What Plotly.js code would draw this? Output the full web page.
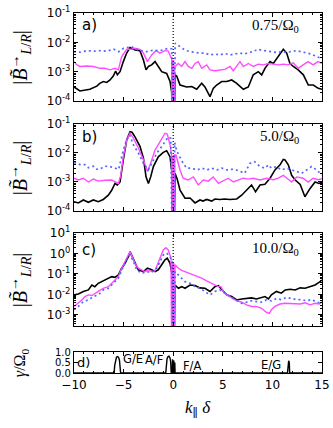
<!DOCTYPE html>
<html><head><meta charset="utf-8">
<script src="https://cdn.plot.ly/plotly-3.0.1.min.js"></script>
<style>html,body{margin:0;padding:0;background:#fff}#chart{width:333px;height:428px}</style>
</head><body><div id="chart"></div>
<script>
// ---------- Panel a (0.75/Ω0) ----------
const aBlackX = [-10,-9.4,-8.4,-7.7,-7.4,-7.05,-6.7,-6.37,-6.04,-5.8,-5.63,-5.36,-5.03,-4.69,-4.35,-4.2,-3.85,-3.35,-3.0,-2.74,-2.5,-2.17,-1.83,-1.5,-1.16,-0.66,-0.32,-0.15,0,0.18,0.35,0.69,1.19,1.36,1.87,2.37,2.87,3.2,3.71,4.04,4.38,4.89,5.39,5.9,6.4,7.07,7.57,8.07,8.58,8.92,9.25,9.76,10.09,10.43,10.77,11.1,11.44,11.77,12.11,12.6,13.12,13.62,14.12,14.63,15];
const aBlackY = [3.0e-4,2.2e-4,2.5e-4,3.2e-4,4.0e-4,4.6e-4,4.3e-4,5.2e-4,7.1e-4,1.05e-3,7.8e-4,1.0e-3,2.2e-3,4.3e-3,6.6e-3,6.3e-3,5.5e-3,5.2e-3,2.5e-3,1.15e-3,1.5e-3,1.7e-3,2.2e-3,1.5e-3,1.0e-3,8.7e-4,4.6e-4,2.0e-4,1e-8,7.8e-4,7.1e-4,3.5e-4,3.2e-4,3.0e-4,3.1e-4,2.5e-4,4.0e-4,3.0e-4,1.4e-4,2.7e-4,3.5e-4,4.6e-4,4.6e-4,5.2e-4,4.0e-4,2.5e-4,3.0e-4,7.8e-4,1.0e-3,7.8e-4,1.3e-3,2.2e-3,1.9e-3,2.8e-3,4.3e-3,5.8e-3,4.3e-3,1.9e-3,1.5e-3,1.15e-3,7.8e-4,3.5e-4,3.5e-4,2.7e-4,2.5e-4];
const aMagX = [-10,-9.7,-9.4,-8.7,-8.05,-7.38,-6.9,-6.37,-5.87,-5.53,-5.2,-4.69,-4.2,-3.85,-3.35,-3.0,-2.6,-2.17,-1.73,-1.33,-0.83,-0.5,-0.25,-0.15,-0.1,-0.05,0,0.05,0.1,0.15,0.18,0.52,0.85,1.19,1.52,1.87,2.2,2.53,2.87,3.37,3.71,4.21,4.71,5.22,5.73,6.06,6.4,6.73,7.07,7.57,8.07,8.58,9.08,9.6,10.1,10.6,11.1,11.6,12.1,12.6,13.1,13.6,14.1,14.6,15];
const aMagY = [2.2e-3,1.7e-3,1.5e-3,1.55e-3,1.5e-3,1.3e-3,1.3e-3,1.15e-3,1.3e-3,1.15e-3,3.2e-3,5.8e-3,5.8e-3,6.3e-3,5.8e-3,4.3e-3,2.2e-3,3.7e-3,5.2e-3,4.3e-3,5.2e-3,5.0e-3,3.2e-3,2.8e-3,1e-8,2.5e-3,1e-8,2.5e-3,1e-8,1.5e-3,1.5e-3,1.9e-3,1.5e-3,2.2e-3,1.5e-3,1.3e-3,1.9e-3,2.2e-3,1.3e-3,1.7e-3,1.15e-3,1.07e-3,1.15e-3,1.2e-3,1.5e-3,1.07e-3,1.55e-3,2.2e-3,1.5e-3,1.9e-3,1.5e-3,1.8e-3,1.7e-3,1.9e-3,1.8e-3,1.7e-3,1.8e-3,1.7e-3,2.0e-3,1.3e-3,1.7e-3,2.2e-3,1.7e-3,2.2e-3,1.9e-3];
const aBlueX = [-10,-9.4,-8.7,-8.0,-7.4,-6.7,-6.0,-5.5,-5.0,-4.5,-4.2,-3.5,-2.7,-2.0,-1.33,-0.83,-0.4,-0.15,0,0.2,0.69,1.19,1.7,2.2,2.7,3.2,3.71,4.2,4.7,5.2,5.7,6.2,6.7,7.2,7.6,8.07,8.5,8.9,9.4,9.9,10.4,10.9,11.4,11.9,12.4,12.9,13.4,13.9,14.5,15];
const aBlueY = [4.8e-3,4.6e-3,5.2e-3,5.0e-3,5.2e-3,5.0e-3,5.8e-3,4.8e-3,6.3e-3,6.6e-3,7.1e-3,5.4e-3,4.8e-3,5.4e-3,5.2e-3,5.8e-3,6.3e-3,6.0e-3,1e-8,9.3e-3,7.1e-3,5.4e-3,4.8e-3,4.5e-3,4.3e-3,4.3e-3,3.7e-3,4.0e-3,3.7e-3,4.2e-3,3.7e-3,4.0e-3,4.3e-3,4.0e-3,4.5e-3,4.8e-3,5.8e-3,5.4e-3,5.2e-3,4.8e-3,4.5e-3,4.8e-3,4.5e-3,4.8e-3,5.2e-3,4.8e-3,4.5e-3,4.0e-3,3.2e-3,2.8e-3];

// ---------- Panel b (5.0/Ω0) ----------
const bBlackX = [-10,-9.56,-9.06,-8.55,-8.05,-7.55,-7.05,-6.54,-6.2,-5.87,-5.63,-5.36,-5.03,-4.69,-4.35,-4.15,-3.85,-3.35,-3.0,-2.74,-2.5,-2.27,-2.0,-1.5,-1.0,-0.66,-0.32,-0.15,0,0.18,0.4,0.69,1.19,1.7,2.2,2.7,3.0,3.37,3.88,4.2,4.7,5.2,5.7,6.4,6.9,7.4,7.9,8.3,8.75,9.25,9.76,10.26,10.77,11.1,11.27,11.6,11.94,12.3,12.8,13.28,13.8,14.3,14.7,15];
const bBlackY = [2.1e-4,1.9e-4,2.4e-4,2.0e-4,2.4e-4,2.1e-4,2.5e-4,3.5e-4,5.2e-4,8.9e-4,7.9e-4,1.0e-3,5.8e-3,2.8e-2,5.4e-2,5.2e-2,3.6e-2,1.7e-2,6.6e-3,1.5e-3,8.9e-4,1.5e-3,3.4e-3,7.4e-3,1.05e-2,1.2e-2,7.4e-3,2.5e-3,1e-8,2.0e-3,1.26e-3,5.2e-4,2.75e-4,2.8e-4,1.9e-4,2.4e-4,2.2e-4,2.5e-4,2.2e-4,2.6e-4,2.5e-4,2.6e-4,2.5e-4,2.6e-4,3.5e-4,5.2e-4,7.9e-4,4.6e-4,7.9e-4,8.3e-4,1.35e-3,2.6e-3,3.9e-3,6.0e-3,5.8e-3,3.9e-3,1.7e-3,1.17e-3,8.3e-4,3.1e-4,6.0e-4,1.0e-3,8.9e-4,1.0e-3];
const bMagX = [-10,-9.56,-9.06,-8.55,-8.05,-7.55,-6.88,-6.2,-5.53,-5.3,-5.03,-4.69,-4.35,-4.0,-3.5,-3.0,-2.6,-2.27,-1.83,-1.33,-0.83,-0.6,-0.32,-0.15,-0.1,-0.05,0,0.05,0.1,0.15,0.28,0.69,1.0,1.5,2.03,2.53,3.03,3.54,4.04,4.55,5.05,5.55,6.06,6.56,7.07,7.57,8.07,8.75,9.4,10.1,10.6,11.1,11.44,11.94,12.45,13.1,13.6,14.1,14.6,15];
const bMagY = [1.35e-3,1.17e-3,1.35e-3,1.0e-3,1.26e-3,1.07e-3,1.15e-3,1.17e-3,8.9e-4,1.6e-3,7.4e-3,2.8e-2,4.8e-2,3.2e-2,1.45e-2,5.8e-3,2.3e-3,4.4e-3,1.26e-2,2.5e-2,4.8e-2,4.5e-2,1.9e-2,8.0e-3,1e-8,8.0e-3,1e-8,8.5e-3,1e-8,8.5e-3,8.5e-3,2.6e-3,1.35e-3,1.17e-3,1.5e-3,7.9e-4,1.17e-3,1.07e-3,1.5e-3,8.9e-4,1.1e-3,1.35e-3,1.0e-3,1.17e-3,1.35e-3,1.26e-3,1.35e-3,1.17e-3,1.35e-3,1.2e-3,1.35e-3,1.7e-3,1.35e-3,1.0e-3,1.5e-3,1.35e-3,1.0e-3,1.35e-3,1.2e-3,1.3e-3];
const bBlueX = [-10,-9.4,-8.9,-8.55,-8.05,-7.7,-7.4,-6.9,-6.37,-5.87,-5.5,-5.03,-4.69,-4.4,-4.0,-3.5,-3.0,-2.5,-2.0,-1.66,-1.16,-0.83,-0.5,-0.25,0,0.15,0.35,0.69,1.0,1.36,1.87,2.37,2.9,3.4,3.9,4.4,4.9,5.4,5.9,6.4,6.9,7.2,7.74,8.2,8.75,9.25,9.6,9.9,10.4,10.9,11.44,11.94,12.45,12.95,13.45,13.95,14.46,15];
const bBlueY = [4.7e-3,4.0e-3,4.0e-3,3.1e-3,3.5e-3,2.75e-3,2.75e-3,3.5e-3,3.4e-3,3.0e-3,2.75e-3,1.26e-2,2.8e-2,4.2e-2,1.9e-2,9.8e-3,4.4e-3,2.6e-3,5.8e-3,9.8e-3,1.66e-2,2.5e-2,3.6e-2,3.2e-2,1e-8,2.3e-2,1.2e-2,7.1e-3,4.4e-3,3.0e-3,3.0e-3,2.6e-3,3.0e-3,2.6e-3,3.0e-3,2.6e-3,3.0e-3,2.6e-3,2.75e-3,2.6e-3,2.2e-3,2.0e-3,4.4e-3,5.0e-3,3.4e-3,3.0e-3,3.9e-3,3.0e-3,3.4e-3,2.6e-3,3.0e-3,2.6e-3,2.3e-3,2.0e-3,2.6e-3,3.4e-3,2.6e-3,1.75e-3];

// ---------- Panel c (10.0/Ω0) ----------
const cBlackX = [-10,-9.56,-9.06,-8.55,-8.2,-7.9,-7.55,-7.2,-6.88,-6.54,-6.2,-5.87,-5.53,-5.2,-4.86,-4.52,-4.35,-4.2,-3.85,-3.52,-3.0,-2.6,-2.17,-1.83,-1.5,-1.16,-0.83,-0.6,-0.32,-0.1,0,0.18,0.52,0.86,1.19,1.7,2.2,2.7,3.2,3.71,4.2,4.55,4.9,5.39,5.9,6.4,6.9,7.4,7.9,8.4,8.9,9.25,9.6,9.9,10.4,10.9,11.3,11.8,12.3,12.8,13.3,13.8,14.3,14.7,15];
const cBlackY = [9.5e-3,1.05e-2,1.4e-2,1.66e-2,2.9e-2,2.4e-2,3.5e-2,4.2e-2,5.1e-2,6.2e-2,7.4e-2,6.8e-2,8.9e-2,0.19,0.33,0.69,1.23,0.85,0.33,0.16,0.13,0.19,0.16,0.13,0.16,0.28,0.49,0.59,0.33,8.9e-2,1e-8,2.9e-2,2.0e-2,2.4e-2,2.0e-2,2.9e-2,2.75e-2,2.1e-2,2.0e-2,1.4e-2,2.4e-2,2.7e-2,1.66e-2,9.5e-3,7.9e-3,5.4e-3,6.0e-3,6.3e-3,6.8e-3,6.0e-3,6.8e-3,7.9e-3,6.0e-3,9.5e-3,1.4e-2,1.15e-2,1.66e-2,1.8e-2,1.66e-2,2.1e-2,2.0e-2,2.4e-2,2.9e-2,3.9e-2,5.0e-2];
const cMagX = [-10,-9.56,-9.2,-8.9,-8.55,-8.2,-7.9,-7.55,-7.05,-6.54,-6.04,-5.53,-5.2,-4.86,-4.52,-4.35,-4.2,-3.85,-3.52,-3.18,-2.84,-2.5,-2.17,-1.85,-1.6,-1.33,-1.0,-0.73,-0.5,-0.22,-0.12,-0.06,0,0.06,0.12,0.18,0.52,0.86,1.19,1.7,2.37,2.87,3.37,3.88,4.2,4.55,4.8,5.05,5.39,5.9,6.4,6.9,7.4,7.9,8.4,8.9,9.4,9.7,9.9,10.26,10.77,11.27,11.8,12.3,12.8,13.3,13.8,14.3,14.7,15];
const cMagY = [2.6e-3,3.7e-3,5.4e-3,7.9e-3,9.5e-3,8.9e-3,1.15e-2,1.4e-2,2.0e-2,2.4e-2,4.2e-2,7.4e-2,0.19,0.4,0.85,1.23,0.85,0.33,0.19,0.16,0.13,0.16,0.13,0.14,0.28,0.69,1.48,1.9,1.48,0.59,1e-8,0.4,1e-8,0.35,1e-8,0.28,0.19,0.15,0.13,0.1,7.4e-2,6.2e-2,4.6e-2,3.5e-2,2.9e-2,2.4e-2,2.4e-2,1.4e-2,9.5e-3,7.1e-3,4.9e-3,4.2e-3,3.1e-3,2.6e-3,2.6e-3,2.1e-3,1.35e-3,1.2e-3,1.8e-3,2.6e-3,3.4e-3,3.7e-3,3.7e-3,3.7e-3,3.4e-3,3.9e-3,3.1e-3,3.7e-3,3.4e-3,4.2e-3];
const cBlueX = [-10,-9.56,-9.06,-8.55,-8.05,-7.55,-7.05,-6.54,-6.04,-5.53,-5.03,-4.7,-4.35,-4.0,-3.68,-3.18,-2.67,-2.17,-1.66,-1.33,-1.0,-0.66,-0.32,-0.12,0,0.18,0.69,1.19,1.7,2.2,2.7,3.2,3.71,4.2,4.7,5.2,5.73,6.4,6.9,7.4,7.9,8.4,8.9,9.4,9.9,10.4,10.9,11.4,11.9,12.45,12.95,13.45,13.95,14.5,15];
const cBlueY = [1.8e-3,2.6e-3,4.5e-3,5.4e-3,7.9e-3,9.5e-3,1.66e-2,2.0e-2,3.5e-2,6.2e-2,0.23,0.49,0.85,0.4,0.16,0.107,0.13,0.117,0.19,0.4,0.85,1.05,0.71,0.4,1e-8,0.13,7.4e-2,4.2e-2,3.5e-2,2.4e-2,2.0e-2,1.4e-2,9.5e-3,1.4e-2,1.66e-2,1.15e-2,7.9e-3,5.4e-3,3.7e-3,4.2e-3,4.9e-3,4.5e-3,4.2e-3,5.4e-3,4.9e-3,6.3e-3,5.6e-3,7.1e-3,6.3e-3,5.6e-3,5.6e-3,4.9e-3,5.6e-3,4.2e-3,3.7e-3];

// ---------- Panel d (growth rate) ----------
const dX = [-10,-5.95,-5.9,-5.82,-5.72,-5.62,-5.52,-5.42,-5.34,-5.3,-0.75,-0.7,-0.62,-0.52,-0.42,-0.32,-0.25,-0.2,-0.1,-0.07,-0.04,0.02,0.05,0.08,0.13,0.16,0.19,11.52,11.58,11.64,11.7,11.74,15];
const dGamma = [0,0,0.35,0.62,0.75,0.78,0.75,0.62,0.35,0,0,0.4,0.68,0.78,0.8,0.72,0.5,0,0,0.65,0,0,0.6,0,0,0.5,0,0,0.55,0.58,0.5,0,0];
const dLabels = ['G/E','A/F','F/A','E/G'];
const dLabelX = [-4.1,-1.9,1.85,9.85];
const dLabelY = [0.68,0.6,0.32,0.4];

// ---------- labels / ticks ----------
const panelTags = ['a)','b)','c)','d)'];
const panelTimes = ['0.75/Ω<sub>0</sub>','5.0/Ω<sub>0</sub>','10.0/Ω<sub>0</sub>'];
const xTickVals = [-10,-5,0,5,10,15];
const xTickText = ['\u221210','\u22125','0','5','10','15'];
const abTickVals = [1e-4,1e-3,1e-2,1e-1];
const abTickText = ['10<sup>-4</sup>','10<sup>-3</sup>','10<sup>-2</sup>','10<sup>-1</sup>'];
const cTickVals = [1e-3,1e-2,1e-1,1,10];
const cTickText = ['10<sup>-3</sup>','10<sup>-2</sup>','10<sup>-1</sup>','10<sup>0</sup>','10<sup>1</sup>'];
const dTickVals = [0,0.5,1];
const dTickText = ['0.0','0.5','1.0'];
const yTitle = '|<i>B\u0303</i><sup>\u2192</sup><sub><i>L</i>/<i>R</i></sub>|';

const BLACK='#000000', MAG='#ff4cff', BLUE='#5566ff';
const SANS='DejaVu Sans, sans-serif', SERIF='Liberation Serif, DejaVu Serif, serif';

function minorLog(lo, hi){ const v=[]; for(let d=lo; d<hi; d++){ for(let k=2;k<=9;k++) v.push(k*Math.pow(10,d)); } return v; }

const traces = [];
function add(x,y,xa,ya,color,dash,w){
  traces.push({x:x,y:y,xaxis:xa,yaxis:ya,type:'scatter',mode:'lines',
    line:{color:color,width:w,dash:dash||'solid'},hoverinfo:'skip',showlegend:false});
}
add(aBlackX,aBlackY,'x','y',BLACK,'solid',1.6);
add(aMagX,aMagY,'x','y',MAG,'solid',1.4);
add(aBlueX,aBlueY,'x','y',BLUE,'2px,3px',1.7);
add(bBlackX,bBlackY,'x2','y2',BLACK,'solid',1.6);
add(bMagX,bMagY,'x2','y2',MAG,'solid',1.4);
add(bBlueX,bBlueY,'x2','y2',BLUE,'2px,3px',1.7);
add(cBlackX,cBlackY,'x3','y3',BLACK,'solid',1.6);
add(cMagX,cMagY,'x3','y3',MAG,'solid',1.4);
add(cBlueX,cBlueY,'x3','y3',BLUE,'2px,3px',1.7);
add(dX,dGamma,'x4','y4',BLACK,'solid',1.4);

const tickFont = {family:SANS,size:12,color:'#000'};
function xax(show){
  return {range:[-10,15],showline:true,linecolor:'#000',linewidth:1.2,mirror:'allticks',
    ticks:'inside',ticklen:4,tickwidth:1,tickcolor:'#000',tickmode:'array',tickvals:xTickVals,ticktext:xTickText,
    showticklabels:show,tickfont:tickFont,showgrid:false,zeroline:false,
    minor:{ticks:'inside',ticklen:2,tickcolor:'#000',tickmode:'linear',tick0:0,dtick:1,showgrid:false}};
}
function ylog(lo,hi,dom,tv,tt){
  return {type:'log',range:[lo,hi],domain:dom,showline:true,linecolor:'#000',linewidth:1.2,mirror:'allticks',
    ticks:'inside',ticklen:4,tickwidth:1,tickcolor:'#000',tickmode:'array',tickvals:tv,ticktext:tt,
    tickfont:tickFont,showgrid:false,zeroline:false,
    minor:{ticks:'inside',ticklen:2,tickcolor:'#000',tickmode:'array',tickvals:minorLog(Math.floor(lo),Math.ceil(hi)),showgrid:false}};
}

const ann = [];
const axNames = ['',"2","3","4"];
const tagY = [0.86,0.85,0.82,0.48];
for(let i=0;i<4;i++){
  ann.push({xref:'x'+axNames[i]+' domain',yref:'y'+axNames[i]+' domain',x:i===3?0.006:0.024,y:tagY[i],
    xanchor:'left',yanchor:'middle',text:panelTags[i],showarrow:false,font:{family:SANS,size:i===3?13:15,color:'#000'}});
}
const timeY = [0.85,0.85,0.83];
for(let i=0;i<3;i++){
  ann.push({xref:'x'+axNames[i]+' domain',yref:'y'+axNames[i]+' domain',x:0.915,y:timeY[i],
    xanchor:'right',yanchor:'middle',text:panelTimes[i],showarrow:false,font:{family:SERIF,size:15,color:'#000'}});
  ann.push({xref:'paper',yref:'y'+axNames[i]+' domain',x:-0.215,y:0.5,textangle:-90,
    xanchor:'center',yanchor:'middle',text:yTitle,showarrow:false,font:{family:SERIF,size:20,color:'#000'}});
}
ann.push({xref:'paper',yref:'y4 domain',x:-0.215,y:0.5,textangle:-90,xanchor:'center',yanchor:'middle',
  text:'<i>γ</i>/Ω<sub>0</sub>',showarrow:false,font:{family:SERIF,size:16,color:'#000'}});
ann.push({xref:'x4 domain',yref:'paper',x:0.5,y:-0.10,xanchor:'center',yanchor:'middle',
  text:'<i>k</i><sub>∥</sub> <i>δ</i>',showarrow:false,font:{family:SERIF,size:17,color:'#000'}});
for(let i=0;i<dLabels.length;i++){
  ann.push({xref:'x4',yref:'y4',x:dLabelX[i],y:dLabelY[i],xanchor:'center',yanchor:'middle',
    text:dLabels[i],showarrow:false,font:{family:SANS,size:11.5,color:'#000'}});
}

const zeroLineX = 0;
const shapes = ['','2','3'].map(s=>({type:'line',xref:'x'+s,yref:'y'+s+' domain',x0:zeroLineX,x1:zeroLineX,y0:0,y1:1,
  line:{color:'#000',width:1.2,dash:'1px,2px'},layer:'above'}));

const layout = {
  width:333,height:428,margin:{l:74,r:11,t:13,b:55},paper_bgcolor:'#fff',plot_bgcolor:'#fff',showlegend:false,
  xaxis:Object.assign(xax(false),{anchor:'y'}),
  xaxis2:Object.assign(xax(false),{anchor:'y2'}),
  xaxis3:Object.assign(xax(false),{anchor:'y3'}),
  xaxis4:Object.assign(xax(true),{anchor:'y4'}),
  yaxis:Object.assign(ylog(-4,-1,[0.7556,1.0],abTickVals,abTickText),{anchor:'x'}),
  yaxis2:Object.assign(ylog(-4,-1,[0.45,0.6917],abTickVals,abTickText),{anchor:'x2'}),
  yaxis3:Object.assign(ylog(-3.54,1,[0.1306,0.3889],cTickVals,cTickText),{anchor:'x3'}),
  yaxis4:{range:[0,1],domain:[0,0.0583],anchor:'x4',showline:true,linecolor:'#000',linewidth:1.2,mirror:'allticks',
    ticks:'inside',ticklen:4,tickcolor:'#000',tickmode:'array',tickvals:dTickVals,ticktext:dTickText,
    tickfont:{family:SANS,size:10,color:'#000'},showgrid:false,zeroline:false},
  annotations:ann,shapes:shapes
};
Plotly.newPlot('chart',traces,layout,{displayModeBar:false,staticPlot:true});
</script></body></html>
